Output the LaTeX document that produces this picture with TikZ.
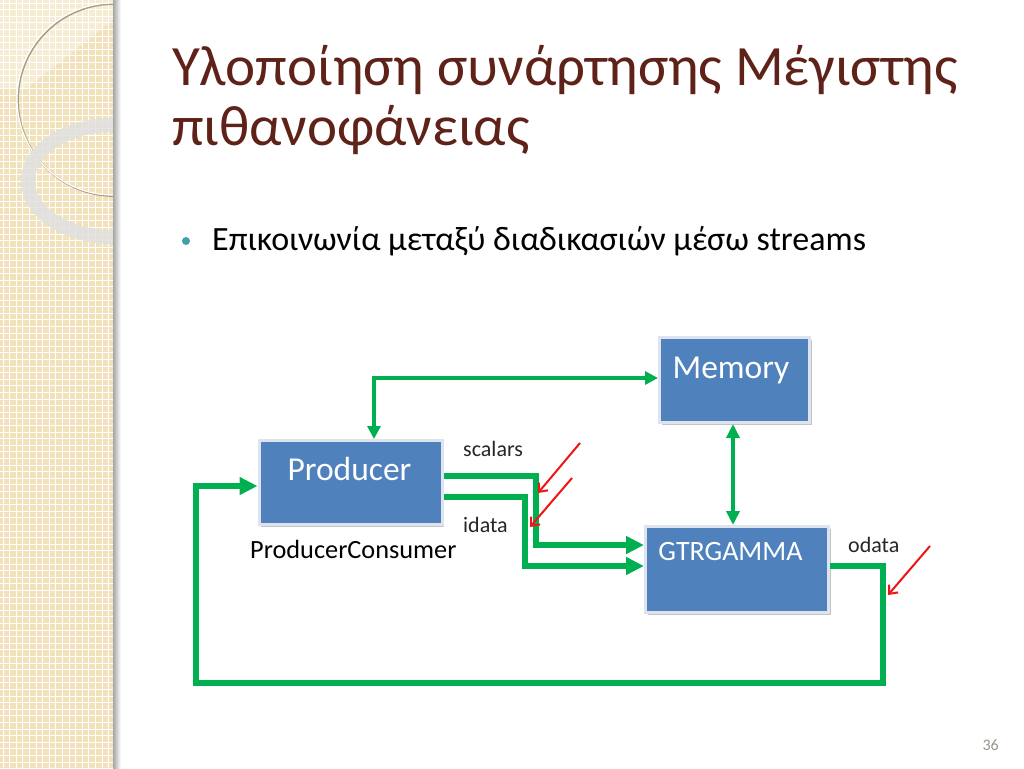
\documentclass[tikz,border=0pt]{standalone}
\usepackage{fontspec}
\setmainfont{Carlito}
\usetikzlibrary{arrows.meta,shadows}
\definecolor{beige}{RGB}{242,226,188}
\definecolor{boxblue}{RGB}{79,129,189}
\definecolor{boxrim}{RGB}{222,228,238}
\definecolor{grn}{RGB}{0,176,80}
\definecolor{titlebrown}{RGB}{94,34,24}
\definecolor{bulletc}{RGB}{64,160,176}
\definecolor{redarr}{RGB}{240,20,20}
\definecolor{pagegray}{RGB}{150,150,140}
\tikzset{
  box/.style={fill=boxblue, draw=boxrim, line width=3pt, inner sep=0pt,
    drop shadow={shadow xshift=2pt, shadow yshift=-2pt, fill=gray, opacity=0.45}},
  boxtext/.style={text=white, anchor=base, inner sep=0pt},
  lbl/.style={anchor=base west, inner sep=0pt, text=black!85, font=\fontsize{22}{22}\selectfont},
  flow/.style={draw=grn, line width=5.5pt, -{Triangle[length=18pt,width=17pt]}},
  thinflow/.style={draw=grn, line width=4pt},
  redmark/.style={draw=redarr, line width=2pt, -{Straight Barb[length=7pt,width=12pt]}},
  gridline/.style={draw=white, line width=0.9pt}
}
\begin{document}
\begin{tikzpicture}[x=1pt,y=-1pt]
\useasboundingbox (0,0) rectangle (1024,768);
\fill[white] (0,0) rectangle (1024,768);
% left decorative panel
\begin{scope}
  \clip (0,0) rectangle (113,768);
  \fill[beige] (0,0) rectangle (113,768);
  \foreach \i in {0,...,17} \draw[gridline] (\i*6.6+3,0) -- (\i*6.6+3,768);
  \foreach \j in {0,...,117} \draw[gridline] (0,\j*6.6+3) -- (113,\j*6.6+3);
  \fill[white, opacity=0.35] (0,0) -- (113,0) -- (113,20) -- (27,88) -- (0,88) -- cycle;
  \draw[black!30!beige, line width=1.8pt] (114,100) circle (96);
  \draw[white!92!beige, line width=1.3pt] (113,99) circle (96);
  \draw[black!12!white, opacity=0.85, line width=14pt] (113,181) ellipse [x radius=85, y radius=56];
\end{scope}
\shade[left color=black!35, right color=white] (113,0) rectangle (121,768);
% title
\node[anchor=base west, inner sep=0pt, text=titlebrown, font=\fontsize{57}{57}\selectfont] (t1) at (172,85) {Υλοποίηση συνάρτησης Μέγιστης};
\node[anchor=base west, inner sep=0pt, text=titlebrown, font=\fontsize{57}{57}\selectfont] (t2) at (172,145) {πιθανοφάνειας};
% bullet
\fill[bulletc] (186,241) circle (4);
\node[anchor=base west, inner sep=0pt, font=\fontsize{34}{34}\selectfont] (b1) at (212,250) {Επικοινωνία μεταξύ διαδικασιών μέσω streams};
% boxes
\node[box, minimum width=150pt, minimum height=85pt] (mem) at (734.5,380) {};
\node[box, minimum width=183pt, minimum height=84pt] (prod) at (350.5,482.5) {};
\node[box, minimum width=183pt, minimum height=86pt] (gtr) at (737,569.5) {};
\node[boxtext, font=\fontsize{33.5}{33.5}\selectfont] (memt) at (731,378) {Memory};
\node[boxtext, font=\fontsize{33.5}{33.5}\selectfont] (prodt) at (349.5,480) {Producer};
\node[boxtext, font=\fontsize{28}{28}\selectfont] (gtrt) at (730.5,560) {GTRGAMMA};
% labels
\node[lbl] (ls) at (463,456) {scalars};
\node[lbl] (li) at (463,532) {idata};
\node[lbl] (lo) at (848,552) {odata};
\node[anchor=base west, inner sep=0pt, font=\fontsize{26.3}{26.3}\selectfont] (pc) at (250,558) {ProducerConsumer};
% green connectors
\draw[thinflow, {Triangle[length=13pt,width=13pt]}-{Triangle[length=13pt,width=13pt]}]
  (prod.north -| 374,0) -- (374,378) -- (mem.west |- 0,378);
\draw[thinflow, {Triangle[length=14pt,width=13pt]}-{Triangle[length=14pt,width=13pt]}]
  (mem.south -| 733,0) -- (gtr.north -| 733,0);
\draw[flow] (prod.east |- 0,476) -- (536,476) -- (536,545) -- (gtr.west |- 0,545);
\draw[flow] (prod.east |- 0,497) -- (525,497) -- (525,566) -- (gtr.west |- 0,566);
\draw[flow] (gtr.east |- 0,566) -- (883,566) -- (883,683) -- (196,683) -- (196,486) -- (prod.west |- 0,486);
% red markers
\coordinate (r1) at (538,493);
\coordinate (r2) at (530,527);
\coordinate (r3) at (888,595);
\draw[redmark] (580,443) -- (r1);
\draw[redmark] (572,478) -- (r2);
\draw[redmark] (930,546) -- (r3);
% page number
\node[anchor=base east, inner sep=0pt, text=pagegray, font=\fontsize{16}{16}\selectfont] (pg) at (999,750) {36};
\end{tikzpicture}
\end{document}
